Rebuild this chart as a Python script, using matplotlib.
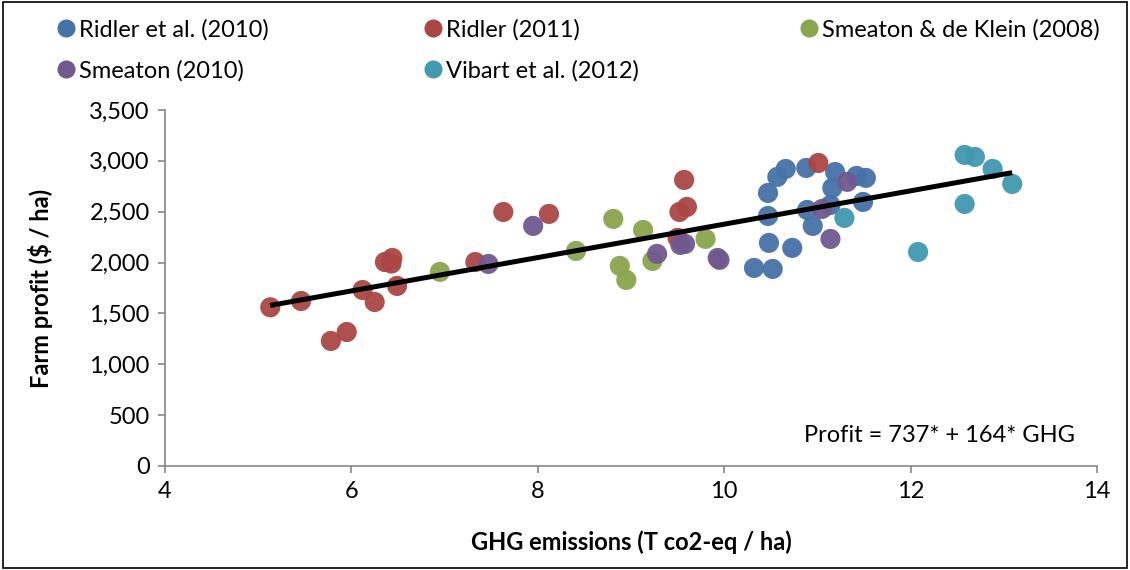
import matplotlib

matplotlib.use("Agg")
import matplotlib.pyplot as plt
from matplotlib.lines import Line2D
from matplotlib.patches import Rectangle
from matplotlib.ticker import FuncFormatter

# GHG emissions (T co2-eq / ha) and farm profit ($ / ha), one pair of lists per study
ridler_2010_x = [10.32, 10.52, 10.48, 10.73, 10.47, 10.47, 10.57, 10.66, 10.88, 10.89,
                 10.95, 11.14, 11.16, 11.19, 11.42, 11.52, 11.49]
ridler_2010_y = [1947, 1937, 2193, 2144, 2458, 2684, 2842, 2920, 2930, 2517,
                 2360, 2566, 2733, 2890, 2851, 2832, 2596]

ridler_2011_x = [5.13, 5.46, 5.78, 5.95, 6.12, 6.25, 6.36, 6.44, 6.43, 6.49,
                 7.33, 7.63, 8.12, 9.57, 9.52, 9.60, 9.50, 11.01]
ridler_2011_y = [1560, 1622, 1229, 1317, 1730, 1612, 2005, 2045, 1990, 1770,
                 2005, 2497, 2478, 2812, 2497, 2547, 2242, 2979]

smeaton_deklein_x = [6.95, 8.41, 8.81, 8.88, 8.95, 9.13, 9.23, 9.80]
smeaton_deklein_y = [1908, 2114, 2429, 1967, 1829, 2320, 2016, 2232]

smeaton_2010_x = [7.47, 7.95, 9.28, 9.53, 9.58, 9.93, 9.95, 11.05, 11.14, 11.32]
smeaton_2010_y = [1986, 2360, 2085, 2173, 2183, 2045, 2026, 2527, 2232, 2793]

vibart_x = [11.29, 12.08, 12.58, 12.58, 12.69, 12.88, 13.09]
vibart_y = [2439, 2104, 2576, 3058, 3038, 2920, 2773]

series_names = ["Ridler et al. (2010)", "Ridler (2011)", "Smeaton & de Klein (2008)",
                "Smeaton (2010)", "Vibart et al. (2012)"]
series_colors = ["#4572A7", "#AA4643", "#89A54E", "#71588F", "#4198AF"]

intercept = 737
slope = 164
x_ticks = [4, 6, 8, 10, 12, 14]
y_ticks = [0, 500, 1000, 1500, 2000, 2500, 3000, 3500]

plt.rcParams["font.family"] = ["Lato", "DejaVu Sans"]

fig = plt.figure(figsize=(11.3, 5.7), dpi=100)
ax = fig.add_axes([0.146, 0.1825, 0.8248, 0.6246])

series = [
    (ridler_2010_x, ridler_2010_y),
    (ridler_2011_x, ridler_2011_y),
    (smeaton_deklein_x, smeaton_deklein_y),
    (smeaton_2010_x, smeaton_2010_y),
    (vibart_x, vibart_y),
]
for (xs, ys), color in zip(series, series_colors):
    ax.scatter(xs, ys, s=210, color=color, alpha=0.95, edgecolors="none", zorder=2)

all_x = [x for xs, _ in series for x in xs]
line_x = [min(all_x), max(all_x)]
line_y = [intercept + slope * x for x in line_x]
ax.plot(line_x, line_y, color="black", linewidth=3.6, solid_capstyle="butt", zorder=3)

ax.text(13.76, 300, f"Profit = {intercept}* + {slope}* GHG", ha="right", va="center",
        fontsize=17)

ax.set_xlim(4, 14)
ax.set_ylim(0, 3500)
ax.set_xticks(x_ticks)
ax.set_yticks(y_ticks)
ax.yaxis.set_major_formatter(FuncFormatter(lambda v, _: f"{int(v):,}"))
ax.tick_params(axis="both", direction="out", length=5, width=1.2, color="#868686",
               labelsize=17, pad=6)
for side in ("top", "right"):
    ax.spines[side].set_visible(False)
for side in ("left", "bottom"):
    ax.spines[side].set_color("#868686")
    ax.spines[side].set_linewidth(1.2)

ax.set_xlabel("GHG emissions (T co2-eq / ha)", fontsize=17, fontweight="bold", labelpad=20)
ax.set_ylabel(r"Farm profit (\$ / ha)", fontsize=17, fontweight="bold", labelpad=26)

handles = [
    Line2D([], [], marker="o", linestyle="none", markersize=12, color=c, label=n)
    for n, c in zip(series_names, series_colors)
]
columns = [([handles[0], handles[3]], 0.040), ([handles[1], handles[4]], 0.364),
           ([handles[2]], 0.697)]
for col_handles, x0 in columns:
    fig.legend(handles=col_handles, loc="upper left", bbox_to_anchor=(x0, 0.984),
               frameon=False, fontsize=17, handletextpad=0.05, handlelength=1.0,
               labelspacing=0.85, borderaxespad=0)

fig.patches.append(Rectangle((0.003, 0.003), 0.994, 0.994, transform=fig.transFigure,
                             fill=False, edgecolor="black", linewidth=1.2))

fig.savefig("out.png", dpi=100)
